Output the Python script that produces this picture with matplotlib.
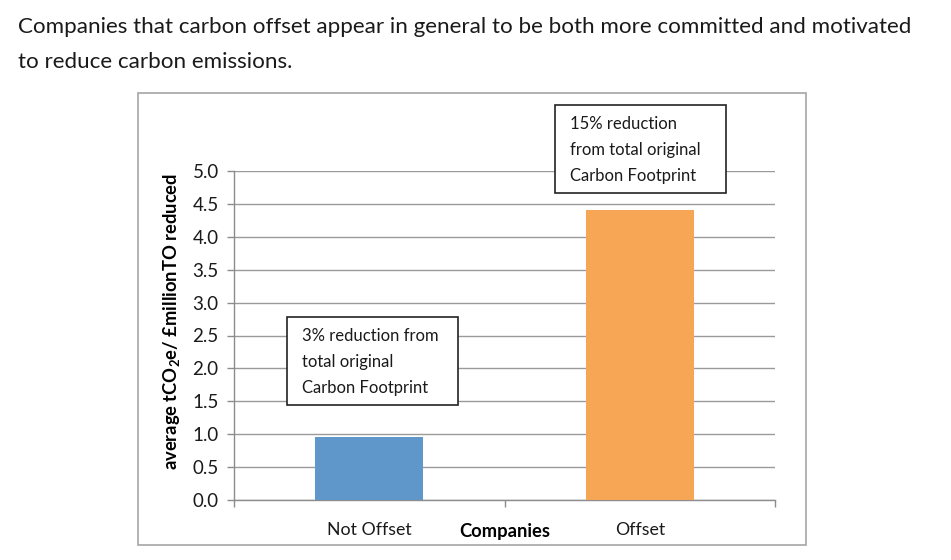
import matplotlib.pyplot as plt
from matplotlib.patches import Rectangle

plt.rcParams['font.family'] = ['Lato', 'DejaVu Sans']

# data
categories = ['Not Offset', 'Offset']
values = [0.96, 4.41]
bar_colors = ['#6097cb', '#f7a655']
notes = ['3% reduction from\ntotal original\nCarbon Footprint',
         '15% reduction\nfrom total original\nCarbon Footprint']
yticks = [0.0, 0.5, 1.0, 1.5, 2.0, 2.5, 3.0, 3.5, 4.0, 4.5, 5.0]

W, H = 951, 560
fig = plt.figure(figsize=(W / 100, H / 100), dpi=100)

# heading text above the chart
fig.text(18 / W, 1 - 27 / H, 'Companies that carbon offset appear in general to be both more committed and motivated',
         fontsize=16.1, va='center', ha='left', color='#1a1a1a')
fig.text(18 / W, 1 - 62 / H, 'to reduce carbon emissions.',
         fontsize=16.1, va='center', ha='left', color='#1a1a1a')

# chart frame
fig.patches.append(Rectangle((138 / W, 1 - 545 / H), (806 - 138) / W, (545 - 93) / H,
                             transform=fig.transFigure, fill=False, edgecolor='#a6a6a6', lw=1.2))

ax = fig.add_axes([234 / W, 1 - 500 / H, (775 - 234) / W, (500 - 171) / H])
x = list(range(len(categories)))
ax.bar(x, values, width=0.40, color=bar_colors, zorder=3)

ax.set_xlim(-0.5, len(categories) - 0.5)
ax.set_ylim(0, 5.0)
ax.set_yticks(yticks)
ax.set_yticklabels([f'{v:.1f}' for v in yticks], fontsize=13.5, color='#1a1a1a')
ax.yaxis.grid(True, color='#9a9a9a', lw=1.0, zorder=0)
ax.set_axisbelow(True)

ax.set_xticks([i + 0.5 for i in range(-1, len(categories))])
ax.set_xticklabels([])
ax.set_xticks(x, minor=True)
ax.set_xticklabels(categories, minor=True, fontsize=12.8, color='#1a1a1a')
ax.tick_params(axis='x', which='minor', length=0, pad=16)
ax.tick_params(axis='x', which='major', length=5, color='#8c8c8c', width=1)
ax.tick_params(axis='y', length=5, color='#8c8c8c', width=1, pad=6)

for s in ['top', 'right']:
    ax.spines[s].set_visible(False)
for s in ['left', 'bottom']:
    ax.spines[s].set_color('#8c8c8c')
    ax.spines[s].set_linewidth(1)

fig.text(505 / W, 1 - 532 / H, 'Companies', fontsize=13.2, fontweight='bold', ha='center', va='center')
fig.text(172 / W, 1 - 321 / H, 'average tCO$_\\mathregular{2}$e/ £millionTO reduced', fontsize=13.2,
         fontweight='bold', rotation=90, ha='center', va='center')

# annotation boxes
boxes = [(287, 317, 458, 405), (555, 105, 726, 193)]
for (x0, y0, x1, y1), note in zip(boxes, notes):
    fig.patches.append(Rectangle((x0 / W, 1 - y1 / H), (x1 - x0) / W, (y1 - y0) / H,
                                 transform=fig.transFigure, facecolor='white', edgecolor='#222222',
                                 lw=1.2, zorder=5))
    fig.text((x0 + 15) / W, 1 - ((y0 + y1) / 2 + 1) / H, note, fontsize=12, ha='left', va='center',
             linespacing=1.78, color='#1a1a1a', zorder=6)

fig.savefig('out.png', dpi=100)
